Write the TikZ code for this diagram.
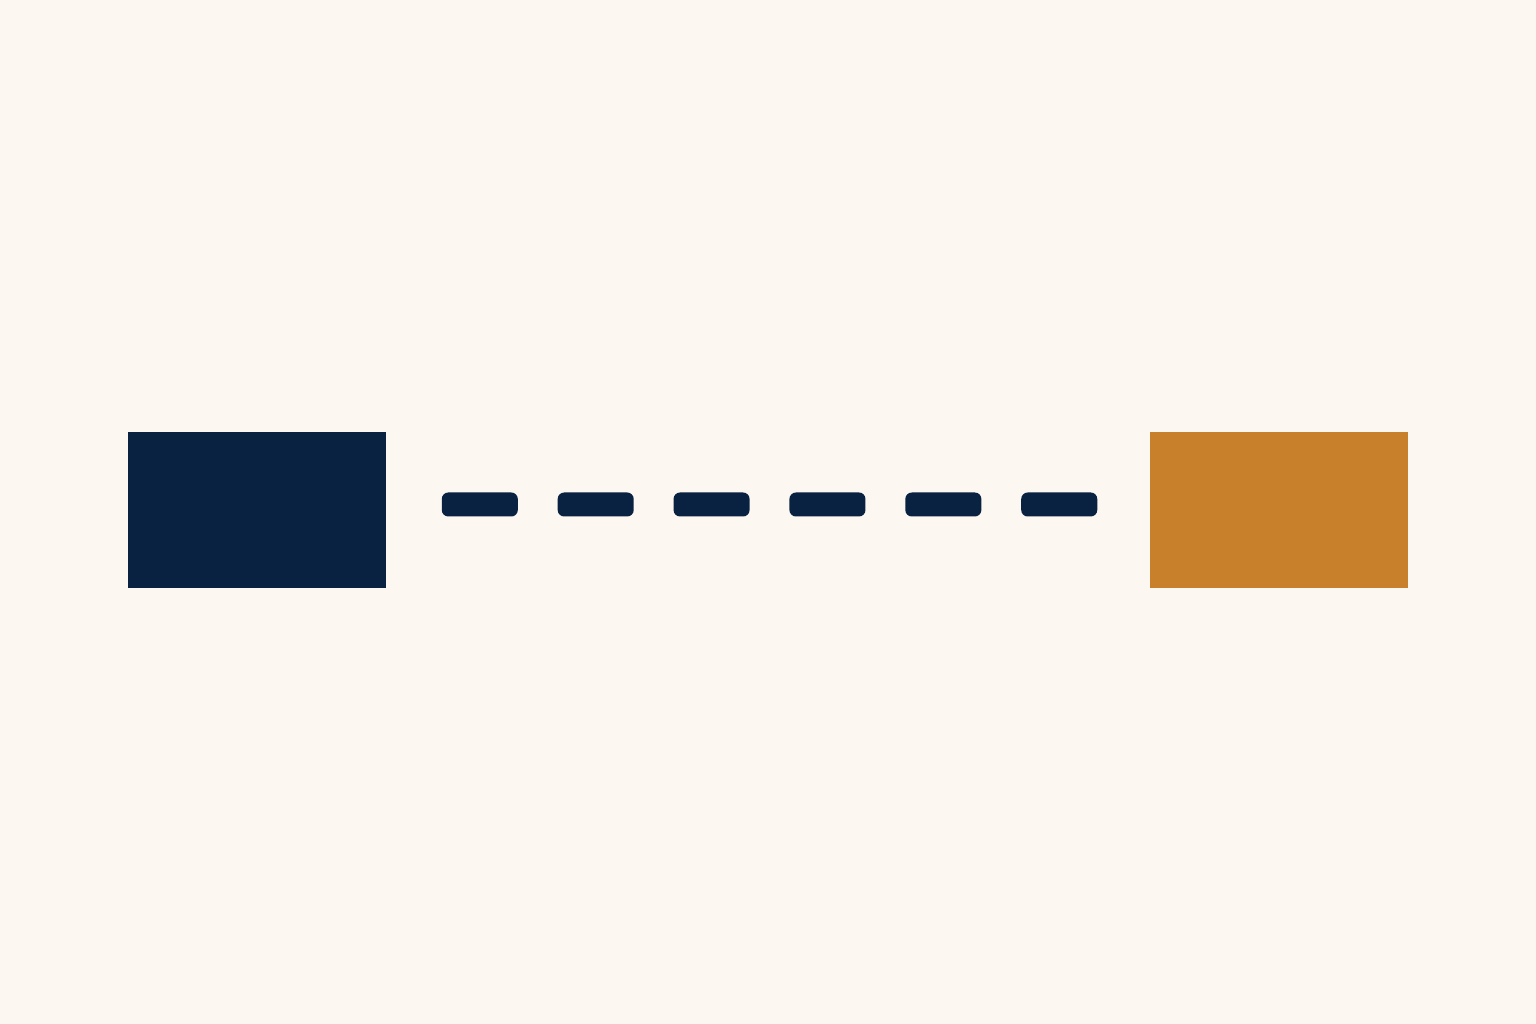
\documentclass[tikz,border=0pt]{standalone}
\usepackage{tikz}
\usetikzlibrary{calc}
\definecolor{paper}{HTML}{FCF7F0}
\definecolor{navyblue}{HTML}{0A2242}
\definecolor{ochre}{HTML}{C8812A}
\newcommand{\LinkDashCount}{6}

\begin{document}
\begin{tikzpicture}[x=0.01cm, y=0.01cm,
    block/.style={rectangle, inner sep=0pt, minimum width=2.58cm, minimum height=1.56cm},
    linkdash/.style={rectangle, rounded corners=0.065cm, inner sep=0pt, fill=navyblue,
                     minimum width=0.76cm, minimum height=0.24cm}]
    %draw background
    \fill[paper] (0,0) rectangle (1536,1024);

    % draw the two blocks
    \node (source) [block, fill=navyblue] at (257,514) {};
    \node (target) [block, fill=ochre] at (1279,514) {};

    % draw the dashed link between them
    \foreach \i in {1,...,\LinkDashCount}{
        \node (dash\i) [linkdash, yshift=0.055cm]
            at ($(source.east)!{0.122+0.152*(\i-1)}!(target.west)$) {};
    }
\end{tikzpicture}
\end{document}
